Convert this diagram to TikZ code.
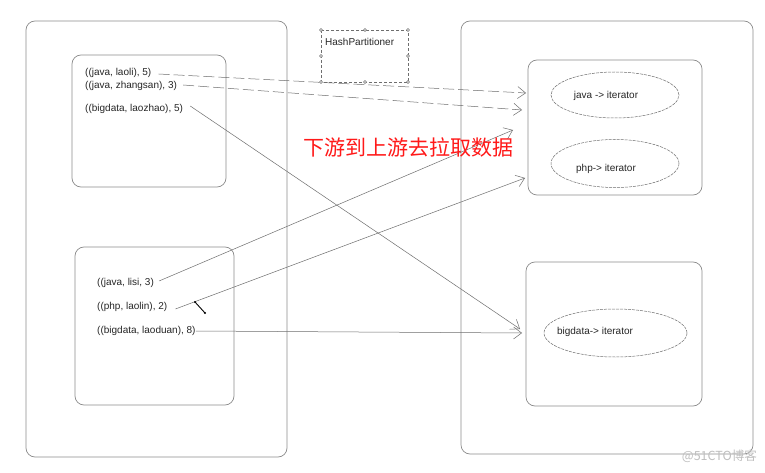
\documentclass[tikz,border=0pt]{standalone}
\usepackage{fontspec}
\setmainfont{Liberation Sans}
\newfontfamily\cjkfont{Noto Sans CJK SC}
\usetikzlibrary{arrows.meta,shapes.geometric}
\definecolor{boxgray}{RGB}{140,140,140}
\definecolor{linegray}{RGB}{110,110,110}
\tikzset{
  box/.style={draw=boxgray, line width=0.7pt, rounded corners=9pt, inner sep=0pt, fill=none},
  lbl/.style={anchor=west, inner sep=0pt, font=\fontsize{10}{11}\selectfont, text=black!85},
  ell/.style={ellipse, draw=linegray, line width=0.5pt, dash pattern=on 3pt off 1pt, inner sep=0pt},
  etext/.style={inner sep=0pt, font=\fontsize{10}{11}\selectfont, text=black!85},
  conn/.style={draw=linegray, line width=0.5pt, -{Straight Barb[length=8pt,width=12pt,line width=0.5pt]}},
  longdash/.style={dash pattern=on 11pt off 4pt},
  handle/.style={circle, draw=linegray, fill=white, inner sep=0pt, minimum size=3pt, line width=0.4pt}
}
\begin{document}
\begin{tikzpicture}[x=1pt,y=-1pt]
\useasboundingbox (0,0) rectangle (765,473);
\fill[white] (0,0) rectangle (765,473);
% outer boxes
\node[box, minimum width=261pt, minimum height=436pt] (L) at (156.5,239) {};
\node[box, minimum width=292pt, minimum height=433pt] (R) at (607,237.5) {};
% inner boxes
\node[box, minimum width=154pt, minimum height=132pt] (TL) at (149,121) {};
\node[box, minimum width=159pt, minimum height=158pt] (BL) at (154.5,326) {};
\node[box, minimum width=174pt, minimum height=135pt] (TR) at (615,127.5) {};
\node[box, minimum width=176pt, minimum height=144pt] (BR) at (614,334) {};
% HashPartitioner
\draw[linegray, line width=0.5pt, dash pattern=on 3pt off 2pt] (321,30) rectangle (408,82);
\node[anchor=west, inner sep=0pt, font=\fontsize{10}{11}\selectfont, text=black!85] (HP) at (325,42) {HashPartitioner};
\foreach \p/\n in {{(321,30)}/h1,{(365,30)}/h2,{(408,30)}/h3,{(321,56)}/h4,{(408,56)}/h5,{(321,82)}/h6,{(365,82)}/h7,{(408,82)}/h8}
  \node[handle] (\n) at \p {};
% ellipses
\node[ell, minimum width=128pt, minimum height=46pt] (E1) at (615,95) {};
\node[ell, minimum width=128pt, minimum height=48pt] (E2) at (615,163.5) {};
\node[ell, minimum width=143pt, minimum height=48pt] (E3) at (615.5,333) {};
\node[etext] (E1t) at (606,96) {java -> iterator};
\node[etext] (E2t) at (606,169) {php-> iterator};
\node[etext] (E3t) at (595,332) {bigdata-> iterator};
% labels
\node[lbl] (a1) at (85,73) {((java, laoli), 5)};
\node[lbl] (a2) at (85,86) {((java, zhangsan), 3)};
\node[lbl] (a3) at (85,109) {((bigdata, laozhao), 5)};
\node[lbl] (b1) at (97,283) {((java, lisi, 3)};
\node[lbl] (b2) at (97,307) {((php, laolin), 2)};
\node[lbl] (b3) at (97,331) {((bigdata, laoduan), 8)};
% arrow targets
\coordinate (t1) at (526,93);
\coordinate (t2) at (522,110);
\coordinate (t3) at (520,329);
\coordinate (t4) at (513,130);
\coordinate (t5) at (525,178);
\coordinate (t6) at (522,333);
\draw[conn, longdash] ([xshift=7pt,yshift=-1pt]a1.east) -- (t1);
\draw[conn, longdash] ([xshift=6pt,yshift=1pt]a2.east) -- (t2);
\draw[conn] ([xshift=7pt,yshift=3pt]a3.east) -- (t3);
\draw[conn] ([xshift=5pt,yshift=2pt]b1.east) -- (t4);
\draw[conn] ([xshift=8pt,yshift=-2pt]b2.east) -- (t5);
\draw[conn] (b3.east) -- (t6);
% small segment
\coordinate (s1) at (195,302);
\coordinate (s2) at (205,313);
\draw[black, line width=0.9pt] (s1) -- (s2);
\fill[black] (s1) circle (1.1pt) (s2) circle (1.1pt);
% red caption
\node[inner sep=0pt, text=red!90!white, font=\cjkfont\fontsize{21}{23}\selectfont] (cap) at (408.5,147.5) {下游到上游去拉取数据};
% watermark
\node[anchor=east, inner sep=0pt, text=black!25, font=\cjkfont\fontsize{12.5}{14}\selectfont] (wm) at (757,456) {@51CTO博客};
\end{tikzpicture}
\end{document}
